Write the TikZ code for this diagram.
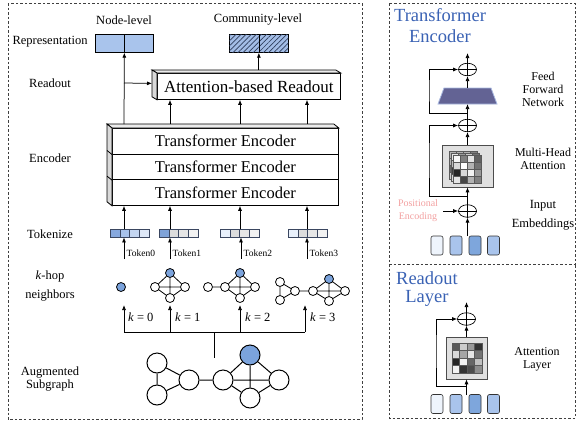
\documentclass[tikz,border=0pt]{standalone}
\usepackage{fontspec}
\setmainfont{Liberation Serif}
\usetikzlibrary{arrows.meta,calc,patterns.meta,shapes.geometric}
\definecolor{repblue}{HTML}{A9C4EC}
\definecolor{hatchbg}{HTML}{A3BDE6}
\definecolor{hatchln}{HTML}{2E3D5C}
\definecolor{nblue}{HTML}{7BA3DC}
\definecolor{ttlblue}{HTML}{3A62B4}
\definecolor{pecol}{HTML}{F2A0A0}
\definecolor{ffnfill}{HTML}{636394}
\definecolor{ffnedge}{HTML}{A8B8E0}
\definecolor{tokbord}{HTML}{3A4660}
\definecolor{tka}{HTML}{86A8DE}
\definecolor{tkb}{HTML}{A8C2EA}
\definecolor{tkc}{HTML}{C3D5F1}
\definecolor{tkd}{HTML}{DDE7F7}
\definecolor{tkm}{HTML}{7FA3D9}
\definecolor{tkl}{HTML}{E8F0FB}
\definecolor{tga}{HTML}{DCDCDC}
\definecolor{tgb}{HTML}{E6E6E6}
\definecolor{tgc}{HTML}{F2F2F2}
\definecolor{ema}{HTML}{EEF4FC}
\definecolor{emb}{HTML}{A9C4EC}
\definecolor{emc}{HTML}{7EA6DC}

\newcommand\mytoken[6]{%
  \node[minimum width=39pt, minimum height=8pt, inner sep=0, anchor=north west] (#1) at (#2,229) {};
  \fill[#3] (#2,229) rectangle ++(9.75,8);
  \fill[#4] (#2+9.75,229) rectangle ++(9.75,8);
  \fill[#5] (#2+19.5,229) rectangle ++(9.75,8);
  \fill[#6] (#2+29.25,229) rectangle ++(9.75,8);
  \draw[draw=tokbord, line width=0.5pt] (#2,229) rectangle ++(39,8)
     (#2+9.75,229) -- ++(0,8) (#2+19.5,229) -- ++(0,8) (#2+29.25,229) -- ++(0,8);
}
\newcommand\attgrid[4]{%
  \foreach \rowlist [count=\ri from 0] in {#4} {
    \foreach \v [count=\ci from 0] in \rowlist {
      \filldraw[fill=black!\v, draw=black!65, line width=0.4pt]
        (#1+\ci*#3, #2+\ri*#3) rectangle ++(#3,#3);
    }
  }
}
\newcommand\myembs[2]{%
  \node[embx, fill=ema] (#1a) at (437,#2) {};
  \node[embx, fill=emb] (#1b) at (456,#2) {};
  \node[embx, fill=emc] (#1c) at (475,#2) {};
  \node[embx, fill=emb] (#1d) at (493.5,#2) {};
}

\begin{document}
\begin{tikzpicture}[x=1pt,y=-1pt,
  frame/.style={draw=black!75, dash pattern=on 2.5pt off 2pt, line width=0.6pt},
  arr/.style={-{Latex[length=5pt,width=4pt]}, line width=0.75pt},
  ln/.style={line width=0.75pt},
  lbl/.style={font=\fontsize{12.5}{14}\selectfont, align=center, inner sep=0},
  side/.style={font=\fontsize{12}{13}\selectfont, align=center, inner sep=0},
  bigtxt/.style={font=\fontsize{16.5}{19}\selectfont},
  ttl/.style={font=\fontsize{18.5}{20}\selectfont, text=ttlblue, align=center, inner sep=0},
  tokl/.style={font=\fontsize{9.5}{11}\selectfont, anchor=west, inner sep=0},
  klbl/.style={font=\fontsize{12.5}{14}\selectfont, anchor=west, inner sep=0},
  gn/.style={circle, draw, line width=0.8pt, minimum size=9pt, inner sep=0, fill=white},
  bn/.style={circle, draw, line width=1pt, minimum size=20pt, inner sep=0, fill=white},
  ge/.style={line width=0.8pt},
  be/.style={line width=1pt},
  plus/.style={ellipse, draw, minimum width=18pt, minimum height=12.5pt, inner sep=0, line width=0.7pt},
  embx/.style={draw=black!80, rounded corners=2pt, minimum width=12pt, minimum height=19pt, inner sep=0, line width=0.6pt},
  face/.style={draw, line width=0.8pt}
]
\useasboundingbox (0,0) rectangle (577,423);

% ---------------- frames
\draw[frame] (8,3) rectangle (362,419);
\draw[frame] (389,3) rectangle (575,264);
\draw[frame] (389,264) -- (389,418) -- (575,418) -- (575,264);

% ---------------- left labels
\node[lbl] (lrep) at (50,42) {Representation};
\node[lbl] (lro) at (50,83) {Readout};
\node[lbl] (lenc) at (50,158) {Encoder};
\node[lbl] (ltok) at (50,234) {Tokenize};
\node[lbl, font=\fontsize{12.5}{19}\selectfont] (lk) at (50,286) {\textit{k}-hop\\neighbors};
\node[lbl, font=\fontsize{12.5}{13.5}\selectfont] (laug) at (50,379) {Augmented\\Subgraph};

\node[lbl] (lnode) at (124,20) {Node-level};
\node[lbl] (lcomm) at (258,20) {Community-level};

% ---------------- representation boxes
\node[draw, fill=repblue, minimum width=58pt, minimum height=18pt, inner sep=0, anchor=north west, line width=0.7pt] (rep1) at (95,34) {};
\draw[line width=0.7pt] (rep1.north) -- (rep1.south);
\node[draw, fill=hatchbg, minimum width=59pt, minimum height=18pt, inner sep=0, anchor=north west, line width=0.7pt,
  postaction={pattern={Lines[angle=45,distance=3.6pt,line width=0.7pt]}, pattern color=hatchln}] (rep2) at (229,34) {};
\draw[line width=0.7pt] (rep2.north) -- (rep2.south);

% ---------------- readout 3D box
\node[draw, fill=white, minimum width=183pt, minimum height=26pt, inner sep=0, anchor=north west, line width=0.8pt,
  font=\fontsize{17}{19}\selectfont] (ro) at (157,73) {Attention-based Readout};
\filldraw[face, fill=gray!15] (ro.north west) -- ++(-5,-3) -- ($(ro.north east)+(-5,-3)$) -- (ro.north east) -- cycle;
\filldraw[face, fill=gray!30] (ro.north west) -- ++(-5,-3) -- ($(ro.south west)+(-5,-3)$) -- (ro.south west) -- cycle;

% ---------------- encoder stack
\node[draw, fill=white, minimum width=226pt, minimum height=25.67pt, inner sep=0, anchor=north west, bigtxt, line width=0.8pt] (enc1) at (112,128) {Transformer Encoder};
\node[draw, fill=white, minimum width=226pt, minimum height=25.67pt, inner sep=0, anchor=north west, bigtxt, line width=0.8pt] (enc2) at (112,153.67) {Transformer Encoder};
\node[draw, fill=white, minimum width=226pt, minimum height=25.67pt, inner sep=0, anchor=north west, bigtxt, line width=0.8pt] (enc3) at (112,179.33) {Transformer Encoder};
\filldraw[face, fill=gray!15] (enc1.north west) -- ++(-5,-4) -- ($(enc1.north east)+(-5,-4)$) -- (enc1.north east) -- cycle;
\filldraw[face, fill=gray!30] (enc1.north west) -- ++(-5,-4) -- ($(enc3.south west)+(-5,-4)$) -- (enc3.south west) -- cycle;
\draw[face] (enc1.south west) -- ++(-5,-4) (enc2.south west) -- ++(-5,-4);

% ---------------- encoder -> readout / representation
\coordinate (s0) at (124,124);
\coordinate (s1) at (170,124);
\coordinate (s2) at (240,124);
\coordinate (s3) at (307,124);
\coordinate (br) at (124,83);
\coordinate (roside) at ($(ro.west)+(-5,-3)$);
\coordinate (rotop) at ($(rep2.south |- ro.north)+(0,-3)$);
\draw[arr] (s0) -- (rep1.south);
\draw[arr] (br) -- (roside);
\draw[arr] (s1) -- (s1 |- ro.south);
\draw[arr] (s2) -- (s2 |- ro.south);
\draw[arr] (s3) -- (s3 |- ro.south);
\draw[arr] (rotop) -- (rep2.south);

% ---------------- tokens
\mytoken{tok0}{110}{tka}{tkb}{tkc}{tkd}
\mytoken{tok1}{159}{tkm}{tga}{tgb}{tgc}
\mytoken{tok2}{220}{tkl}{tga}{tgb}{tgc}
\mytoken{tok3}{288}{tkl}{tga}{tgb}{tgc}

\draw[arr] (s0 |- tok0.north) -- (s0 |- enc3.south);
\draw[arr] (s1 |- tok1.north) -- (s1 |- enc3.south);
\draw[arr] (s2 |- tok2.north) -- (s2 |- enc3.south);
\draw[arr] (s3 |- tok3.north) -- (s3 |- enc3.south);

\coordinate (ta0) at (124,259);
\coordinate (ta1) at (170,259);
\coordinate (ta2) at (241,259);
\coordinate (ta3) at (307,259);
\draw[arr] (ta0) -- (ta0 |- tok0.south);
\draw[arr] (ta1) -- (ta1 |- tok1.south);
\draw[arr] (ta2) -- (ta2 |- tok2.south);
\draw[arr] (ta3) -- (ta3 |- tok3.south);
\node[tokl] (tl0) at (126.5,253) {Token0};
\node[tokl] (tl1) at (172.5,253) {Token1};
\node[tokl] (tl2) at (243.5,253) {Token2};
\node[tokl] (tl3) at (309.5,253) {Token3};

% ---------------- k-hop graphs
\node[gn, fill=nblue] (g0) at (121,287) {};

\node[gn, fill=nblue] (g1t) at (170,273) {};
\node[gn] (g1l) at (155,287) {};
\node[gn] (g1r) at (185,287) {};
\node[gn] (g1b) at (170,298) {};
\draw[ge] (g1t)--(g1l) (g1t)--(g1r) (g1l)--(g1r) (g1t)--(g1b) (g1l)--(g1b) (g1r)--(g1b);

\node[gn] (g2a) at (208,287) {};
\node[gn, fill=nblue] (g2t) at (240,273) {};
\node[gn] (g2l) at (225,287) {};
\node[gn] (g2r) at (255,287) {};
\node[gn] (g2b) at (240,298) {};
\draw[ge] (g2a)--(g2l) (g2t)--(g2l) (g2t)--(g2r) (g2l)--(g2r) (g2t)--(g2b) (g2l)--(g2b) (g2r)--(g2b);

\node[gn] (g3a) at (280,282) {};
\node[gn] (g3b) at (280,300) {};
\node[gn] (g3c) at (295,291) {};
\node[gn] (g3l) at (313,291) {};
\node[gn, fill=nblue] (g3t) at (329,279) {};
\node[gn] (g3r) at (345,291) {};
\node[gn] (g3d) at (329,301) {};
\draw[ge] (g3a)--(g3b) (g3a)--(g3c) (g3b)--(g3c) (g3c)--(g3l)
  (g3t)--(g3l) (g3t)--(g3r) (g3l)--(g3r) (g3t)--(g3d) (g3l)--(g3d) (g3r)--(g3d);

% ---------------- k arrows and bar
\coordinate (k0) at (124,332);
\coordinate (k1) at (170,332);
\coordinate (k2) at (240,332);
\coordinate (k3) at (305,332);
\coordinate (k0e) at (124,305);
\coordinate (k1e) at (170,305);
\coordinate (k2e) at (240,305);
\coordinate (k3e) at (305,305);
\coordinate (kmid) at (214,332);
\coordinate (ksub) at (214,358);
\draw[ln] (k0) -- (k3);
\draw[ln] (kmid) -- (ksub);
\draw[arr] (k0) -- (k0e);
\draw[arr] (k1) -- (k1e);
\draw[arr] (k2) -- (k2e);
\draw[arr] (k3) -- (k3e);
\node[klbl] (kl0) at (128,317) {\textit{k} = 0};
\node[klbl] (kl1) at (175,317) {\textit{k} = 1};
\node[klbl] (kl2) at (245,317) {\textit{k} = 2};
\node[klbl] (kl3) at (310,317) {\textit{k} = 3};

% ---------------- augmented subgraph
\node[bn] (a1) at (157,363) {};
\node[bn] (a2) at (157,395) {};
\node[bn] (a3) at (189,380) {};
\node[bn] (a4) at (223,380) {};
\node[bn, fill=nblue] (a5) at (250,355) {};
\node[bn] (a6) at (279,380) {};
\node[bn] (a7) at (250,398) {};
\draw[be] (a1)--(a2) (a1)--(a3) (a2)--(a3) (a3)--(a4)
  (a5)--(a4) (a5)--(a6) (a4)--(a6) (a5)--(a7) (a4)--(a7) (a6)--(a7);

% ================= right panel: Transformer Encoder
\node[ttl, font=\fontsize{18.5}{20.5}\selectfont] (ttl1) at (440,25.5) {Transformer\\Encoder};

\node[plus] (p1) at (467.5,69.5) {};
\node[plus] (p2) at (467.5,125.5) {};
\node[plus] (p3) at (467.5,211) {};
\draw[line width=0.7pt] (p1.north) -- (p1.south) (p1.west) -- (p1.east);
\draw[line width=0.7pt] (p2.north) -- (p2.south) (p2.west) -- (p2.east);
\draw[line width=0.7pt] (p3.north) -- (p3.south) (p3.west) -- (p3.east);

% FFN
\filldraw[fill=ffnfill, draw=ffnedge, line width=0.8pt] (444,88) -- (491,88) -- (497,104) -- (438,104) -- cycle;
\coordinate (ffnN) at (467.5,88);
\coordinate (ffnS) at (467.5,104);

% MHA box
\node[draw=black!70, fill=black!12, minimum width=51pt, minimum height=42pt, inner sep=0, line width=0.7pt] (mha) at (467.5,166) {};
\attgrid{449}{151}{7}{{30,30,30,50},{30,20,20,40},{60,30,20,30},{20,40,30,40}}
\attgrid{451}{153}{7}{{10,40,20,55},{25,10,35,50},{75,20,10,40},{15,60,30,45}}
\attgrid{453}{155}{7}{{3,50,10,62},{15,0,30,55},{85,15,5,40},{10,72,30,50}}

% embeddings
\myembs{ea}{245.5}
\coordinate (embtop) at (467.5,236);

% arrows
\coordinate (o1) at (467.5,53);
\draw[arr] (p1.north) -- (o1);
\draw[arr] (ffnN) -- (p1.south);
\draw[arr] (p2.north) -- (ffnS);
\draw[arr] (mha.north) -- (p2.south);
\draw[arr] (p3.north) -- (mha.south);
\draw[arr] (embtop) -- (p3.south);

\coordinate (r1) at (467.5,113);
\coordinate (rc1) at (429,90);
\coordinate (r2) at (467.5,196);
\coordinate (rc2) at (429,160);
\draw[arr] (r1) -| (rc1) |- (p1.west);
\draw[arr] (r2) -| (rc2) |- (p2.west);

\node[side, font=\fontsize{10}{13}\selectfont, text=pecol] (pe) at (418,210.5) {Positional\\Encoding};
\coordinate (pes) at (443,211);
\draw[arr] (pes) -- (p3.west);

\node[side] (ffnl) at (543,89) {Feed\\Forward\\Network};
\node[side] (mhal) at (543,158.5) {Multi-Head\\Attention};
\node[side, font=\fontsize{12.5}{18.5}\selectfont] (inl) at (543,215.5) {Input\\Embeddings};

% ================= right panel: Readout Layer
\node[ttl, font=\fontsize{18.5}{18.5}\selectfont] (ttl2) at (427,289) {Readout\\Layer};

\node[plus] (p4) at (466.5,319) {};
\draw[line width=0.7pt] (p4.north) -- (p4.south) (p4.west) -- (p4.east);

\node[draw=black!70, fill=black!12, minimum width=41pt, minimum height=42pt, inner sep=0, line width=0.7pt] (att) at (466.5,358) {};
\attgrid{452}{343}{7.5}{{65,20,40,80},{15,35,10,55},{85,5,60,25},{5,80,70,45}}

\myembs{eb}{404}
\coordinate (embtop2) at (466.5,395);
\coordinate (o4) at (466.5,302);
\draw[arr] (p4.north) -- (o4);
\draw[arr] (att.north) -- (p4.south);
\draw[arr] (embtop2) -- (att.south);
\coordinate (r3) at (466.5,386);
\coordinate (rc3) at (436,350);
\draw[arr] (r3) -| (rc3) |- (p4.west);

\node[side] (attl) at (537,359.5) {Attention\\Layer};

\end{tikzpicture}
\end{document}
